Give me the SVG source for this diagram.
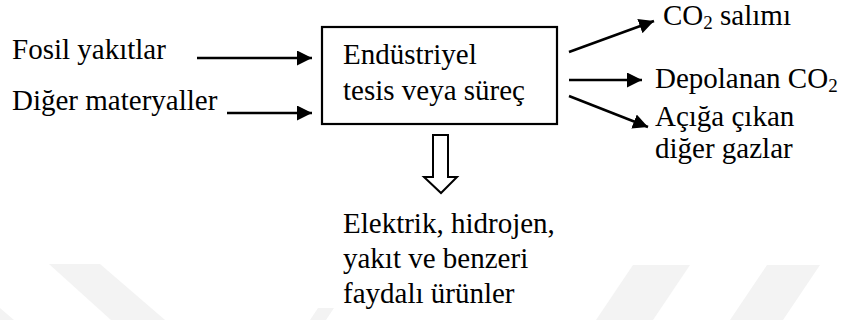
<svg xmlns="http://www.w3.org/2000/svg" width="842" height="320" viewBox="0 0 842 320">
<style>
  text { font-family: 'Liberation Serif', 'Times New Roman', Times, 'DejaVu Serif', serif; font-size: 29px; fill: #000; }
  .sub { font-size: 19px; }
  .ln { stroke: #000; stroke-width: 2.5; fill: none; }
  .wm { fill: #f3f3f3; }
</style>
<defs>
  <marker id="ah" viewBox="0 0 10 10" refX="10" refY="5" markerWidth="6" markerHeight="6" markerUnits="strokeWidth" orient="auto">
    <path d="M0,0 L10,5 L0,10 Z" fill="#000"/>
  </marker>
</defs>
<rect width="842" height="320" fill="#fff"/>
<g id="watermark">
  <polygon class="wm" points="49,264 100,264 165,320 111,320"/>
  <polygon class="wm" points="0,308 14,320 0,320"/>
  <polygon class="wm" points="318,308 334,308 326,320 310,320"/>
  <polygon class="wm" points="633,265 690,265 653,320 596,320"/>
  <polygon class="wm" points="767,265 820,265 783,320 730,320"/>
</g>
<g id="connectors">
  <line class="ln" x1="197" y1="58" x2="312" y2="58" marker-end="url(#ah)"/>
  <line class="ln" x1="227" y1="113" x2="312" y2="113" marker-end="url(#ah)"/>
  <line class="ln" x1="569" y1="52" x2="654" y2="21" marker-end="url(#ah)"/>
  <line class="ln" x1="569" y1="80" x2="642" y2="80" marker-end="url(#ah)"/>
  <line class="ln" x1="569" y1="96" x2="648" y2="127" marker-end="url(#ah)"/>
  <path id="down-arrow" d="M433,135 L448,135 L448,177 L457,177 L441,193 L424,177 L433,177 Z" fill="#fff" stroke="#000" stroke-width="2"/>
</g>
<g id="input-fosil">
  <text font-family="Liberation Serif, serif" x="12" y="59">Fosil yakıtlar</text>
</g>
<g id="input-diger">
  <text font-family="Liberation Serif, serif" x="12" y="110">Diğer materyaller</text>
</g>
<g id="process">
  <rect x="322" y="27" width="235" height="97" fill="#fff" stroke="#000" stroke-width="2.2"/>
  <text font-family="Liberation Serif, serif" x="343" y="64">Endüstriyel</text>
  <text font-family="Liberation Serif, serif" x="343" y="100">tesis veya süreç</text>
</g>
<g id="out-co2">
  <text font-family="Liberation Serif, serif" x="663" y="25">CO<tspan class="sub" dy="4">2</tspan><tspan dy="-4"> salımı</tspan></text>
</g>
<g id="out-depolanan">
  <text font-family="Liberation Serif, serif" x="655" y="88">Depolanan CO<tspan class="sub" dy="4">2</tspan></text>
</g>
<g id="out-gazlar">
  <text font-family="Liberation Serif, serif" x="655" y="126">Açığa çıkan</text>
  <text font-family="Liberation Serif, serif" x="655" y="158">diğer gazlar</text>
</g>
<g id="products">
  <text font-family="Liberation Serif, serif" x="343" y="233">Elektrik, hidrojen,</text>
  <text font-family="Liberation Serif, serif" x="343" y="268">yakıt ve benzeri</text>
  <text font-family="Liberation Serif, serif" x="343" y="303">faydalı ürünler</text>
</g>
</svg>
